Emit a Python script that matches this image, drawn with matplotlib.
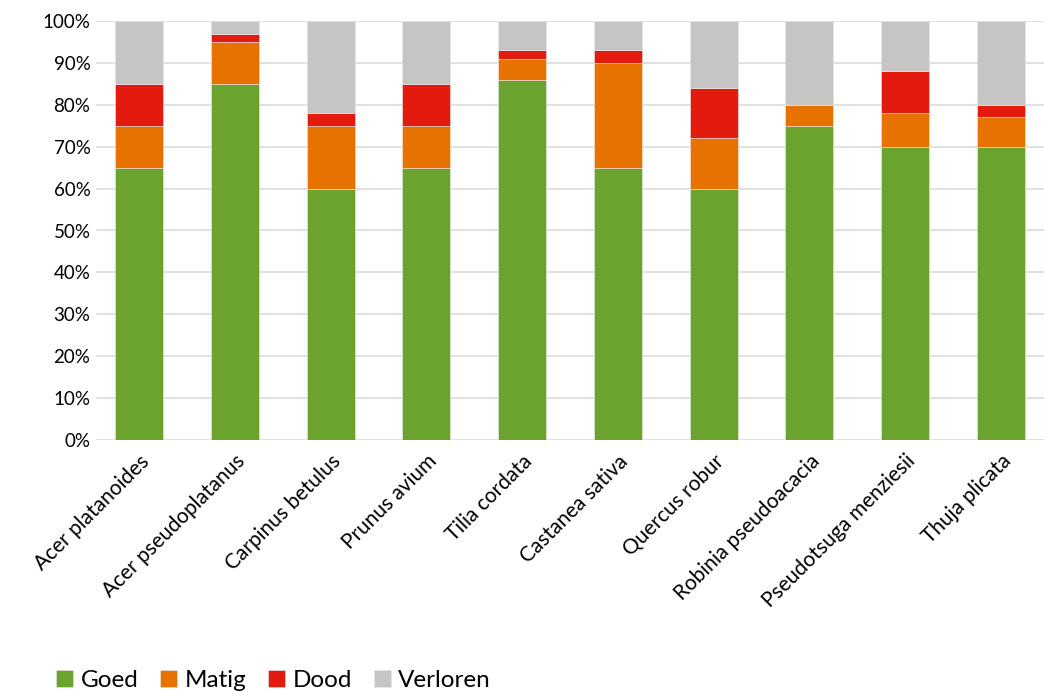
import matplotlib.pyplot as plt
import numpy as np
from matplotlib.ticker import PercentFormatter

plt.rcParams['font.family'] = ['Lato', 'DejaVu Sans']

# Data (percent per tree species)
species = ['Acer platanoides', 'Acer pseudoplatanus', 'Carpinus betulus', 'Prunus avium',
           'Tilia cordata', 'Castanea sativa', 'Quercus robur', 'Robinia pseudoacacia',
           'Pseudotsuga menziesii', 'Thuja plicata']
goed = [65, 85, 60, 65, 86, 65, 60, 75, 70, 70]
matig = [10, 10, 15, 10, 5, 25, 12, 5, 8, 7]
dood = [10, 2, 3, 10, 2, 3, 12, 0, 10, 3]
verloren = [15, 3, 22, 15, 7, 7, 16, 20, 12, 20]

series = [('Goed', goed, '#6AA42E'), ('Matig', matig, '#E87200'),
          ('Dood', dood, '#E31A0E'), ('Verloren', verloren, '#C6C5C4')]

fig = plt.figure(figsize=(10.44, 6.92), dpi=100)
ax = fig.add_axes([96 / 1044, 1 - 440 / 692, (1044 - 96) / 1044, (440 - 21) / 692])

x = np.arange(len(species))
bottom = np.zeros(len(species))
for name, vals, col in series:
    ax.bar(x, vals, bottom=bottom, width=0.5, color=col, label=name,
           edgecolor='#e8e8e8', linewidth=0.4, zorder=3)
    bottom += np.array(vals)

ax.set_ylim(0, 100)
ax.set_xlim(-0.45, 9.45)
ax.set_yticks(np.arange(0, 101, 10))
ax.yaxis.set_major_formatter(PercentFormatter(decimals=0))
ax.grid(axis='y', color='#dcdcdc', linewidth=1.2, zorder=0)
for s in ax.spines.values():
    s.set_visible(False)
ax.tick_params(axis='both', length=0, labelsize=13.5, colors='black')
ax.tick_params(axis='y', pad=4)
ax.tick_params(axis='x', pad=8)
ax.set_xticks(x)
ax.set_xticklabels(species, rotation=45, ha='right', rotation_mode='anchor', fontsize=15)

fig.legend(loc='lower left', bbox_to_anchor=(0.033, -0.03), ncol=4, frameon=False,
           fontsize=17.5, handlelength=0.7, handleheight=0.7, handletextpad=0.3,
           columnspacing=0.9)

plt.savefig('out.png', dpi=100)
